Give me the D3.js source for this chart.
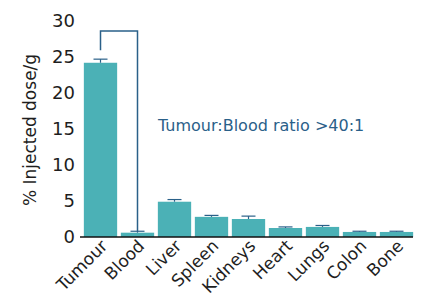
<!DOCTYPE html>
<html>
<head>
<meta charset="utf-8">
<script src="https://cdn.jsdelivr.net/npm/d3@7"></script>
<style>
  body { margin: 0; background: #fff; }
  text { font-family: "DejaVu Sans", sans-serif; fill: #1e1e1e; }
</style>
</head>
<body>
<svg id="chart" width="421" height="302"></svg>
<script>
// data
var organs = ["Tumour", "Blood", "Liver", "Spleen", "Kidneys", "Heart", "Lungs", "Colon", "Bone"];
var dose = [24.2, 0.6, 4.9, 2.8, 2.5, 1.25, 1.4, 0.7, 0.7];
var errHi = [24.7, 0.8, 5.2, 3.0, 2.9, 1.4, 1.6, 0.8, 0.8];
var yTicks = [0, 5, 10, 15, 20, 25, 30];

var teal = "#4bb1b6";
var navy = "#2a6089";

var svg = d3.select("#chart");

var x = d3.scaleBand()
    .domain(organs)
    .range([82, 415])
    .paddingInner(0.1)
    .paddingOuter(0.05);
var y = d3.scaleLinear()
    .domain([0, 30])
    .range([237, 21]);

// y tick labels, no axis line
svg.selectAll(".ytick")
    .data(yTicks)
    .enter()
    .append("text")
    .attr("class", "ytick")
    .attr("x", 75)
    .attr("y", function(d) { return y(d); })
    .attr("dy", "0.36em")
    .style("text-anchor", "end")
    .style("font-size", "18px")
    .text(function(d) { return d; });

// bars
svg.selectAll(".bar")
    .data(organs)
    .enter()
    .append("rect")
    .attr("class", "bar")
    .attr("x", function(d) { return x(d); })
    .attr("width", x.bandwidth())
    .attr("y", function(d, i) { return y(dose[i]); })
    .attr("height", function(d, i) { return y(0) - y(dose[i]); })
    .style("fill", teal);

// error bars
svg.selectAll(".errline")
    .data(organs)
    .enter()
    .append("line")
    .attr("x1", function(d) { return x(d) + x.bandwidth()/2; })
    .attr("x2", function(d) { return x(d) + x.bandwidth()/2; })
    .attr("y1", function(d, i) { return y(dose[i]); })
    .attr("y2", function(d, i) { return y(errHi[i]); })
    .style("stroke", navy)
    .style("stroke-width", 1.2);
svg.selectAll(".errcap")
    .data(organs)
    .enter()
    .append("line")
    .attr("x1", function(d) { return x(d) + x.bandwidth()/2 - 7; })
    .attr("x2", function(d) { return x(d) + x.bandwidth()/2 + 7; })
    .attr("y1", function(d, i) { return y(errHi[i]); })
    .attr("y2", function(d, i) { return y(errHi[i]); })
    .style("stroke", navy)
    .style("stroke-width", 1.2);

// baseline
svg.append("line")
    .attr("x1", 80)
    .attr("x2", 413)
    .attr("y1", y(0))
    .attr("y2", y(0))
    .style("stroke", "#111")
    .style("stroke-width", 1.5);

// bracket Tumour -> Blood
var cT = x("Tumour") + x.bandwidth()/2;
var cB = x("Blood") + x.bandwidth()/2;
svg.append("path")
    .attr("d", "M" + cT + "," + (y(errHi[0]) - 9) +
               "V" + y(28.6) + "H" + cB + "V" + y(errHi[1]))
    .style("fill", "none")
    .style("stroke", navy)
    .style("stroke-width", 1.5);

svg.append("text")
    .attr("x", 158)
    .attr("y", 131)
    .style("font-size", "16px")
    .style("fill", navy)
    .text("Tumour:Blood ratio >40:1");

// x labels
svg.selectAll(".xlabel")
    .data(organs)
    .enter()
    .append("text")
    .attr("class", "xlabel")
    .attr("transform", function(d) {
      return "translate(" + (x(d) + x.bandwidth()/2 + 8) + "," + 247 + ") rotate(-45)";
    })
    .style("text-anchor", "end")
    .style("font-size", "17px")
    .text(function(d) { return d; });

// y title
svg.append("text")
    .attr("transform", "translate(36,130) rotate(-90)")
    .style("text-anchor", "middle")
    .style("font-size", "17px")
    .text("% Injected dose/g");
</script>
</body>
</html>
